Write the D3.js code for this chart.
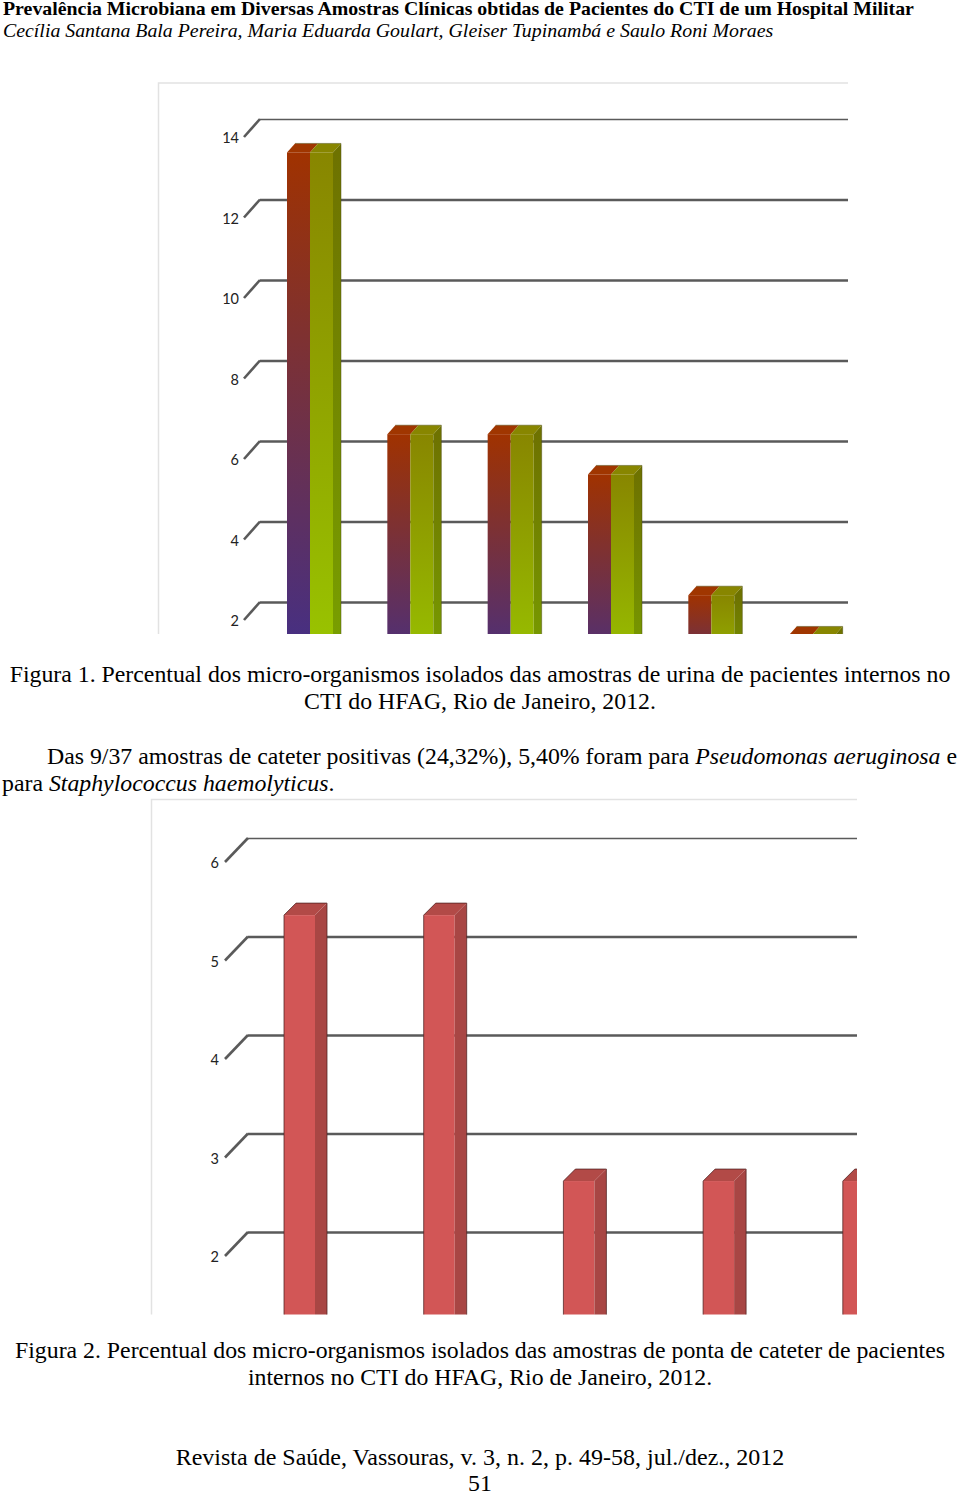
<!DOCTYPE html>
<html><head><meta charset="utf-8">
<script src="https://cdn.jsdelivr.net/npm/d3@7/dist/d3.min.js"></script>
<style>
html,body{margin:0;padding:0;background:#fff}
svg{display:block}
.t{font-family:"Liberation Serif",serif;fill:#000}
.tick text{font-family:Lato,sans-serif;font-size:14.5px;fill:#222}
</style></head><body>
<svg id="c" width="960" height="1493"></svg>
<script>
const chart1Categories = ["a","b","c","d","e","f"];
const chart1SeriesA = [13.5,6.5,6.5,5.5,2.5,1.5];
const chart1SeriesB = [13.5,6.5,6.5,5.5,2.5,1.5];
const chart1Ticks = [2,4,6,8,10,12,14];
const chart2Categories = ["a","b","c","d","e"];
const chart2Values = [5.4,5.4,2.7,2.7,2.7];
const chart2Ticks = [2,3,4,5,6];

const svg = d3.select("#c");
const defs = svg.append("defs");

function text(x,y,size,str,anchor,weight,style){
  const t = svg.append("text").attr("class","t").attr("x",x).attr("y",y)
    .attr("font-size",size).attr("text-anchor",anchor||"start");
  if(weight) t.attr("font-weight",weight);
  if(style) t.attr("font-style",style);
  t.text(str); return t;
}
function rich(x,y,size,parts,anchor){
  const t = svg.append("text").attr("class","t").attr("x",x).attr("y",y)
    .attr("font-size",size).attr("text-anchor",anchor||"start");
  parts.forEach(p=>{const s=t.append("tspan").text(p[0]); if(p[1]) s.attr("font-style","italic");});
}
text(3,15,19.85,"Prevalência Microbiana em Diversas Amostras Clínicas obtidas de Pacientes do CTI de um Hospital Militar","start","bold");
text(3,37,19.85,"Cecília Santana Bala Pereira, Maria Eduarda Goulart, Gleiser Tupinambá e Saulo Roni Moraes","start",null,"italic");
text(480,682,23.8,"Figura 1. Percentual dos micro-organismos isolados das amostras de urina de pacientes internos no","middle");
text(480,709,23.8,"CTI do HFAG, Rio de Janeiro, 2012.","middle");
rich(47,764,23.8,[["Das 9/37 amostras de cateter positivas (24,32%), 5,40% foram para "],["Pseudomonas aeruginosa",1],[" e"]]);
rich(2,791,23.8,[["para "],["Staphylococcus haemolyticus",1],["."]]);
text(480,1358,23.8,"Figura 2. Percentual dos micro-organismos isolados das amostras de ponta de cateter de pacientes","middle");
text(480,1385,23.8,"internos no CTI do HFAG, Rio de Janeiro, 2012.","middle");
text(480,1465,24,"Revista de Saúde, Vassouras, v. 3, n. 2, p. 49-58, jul./dez., 2012","middle");
text(480,1491,23.8,"51","middle");

function frame(cfg){
  const g = svg.append("g");
  g.append("path").attr("d",`M${cfg.frameX},${cfg.bottom}V${cfg.frameY}H${cfg.right}`)
    .attr("fill","none").attr("stroke","#e2e2e2").attr("stroke-width",1.5);
  const cid = "clip"+cfg.id;
  defs.append("clipPath").attr("id",cid).append("rect")
    .attr("x",cfg.frameX).attr("y",cfg.frameY).attr("width",cfg.right-cfg.frameX).attr("height",cfg.bottom-cfg.frameY);
  const grid = g.append("g").attr("transform",`translate(${cfg.backX},0)`)
    .call(d3.axisRight(cfg.y).tickValues(cfg.ticks).tickSize(cfg.right-cfg.backX).tickFormat(""));
  grid.select(".domain").remove();
  grid.selectAll("line").attr("stroke","#5a5a5a").attr("stroke-width",d=>d===cfg.ticks[cfg.ticks.length-1]?1.6:2.6);
  g.append("g").selectAll("line").data(cfg.ticks).join("line")
    .attr("x1",cfg.backX-cfg.dx).attr("y1",d=>cfg.y(d)+cfg.dy).attr("x2",cfg.backX).attr("y2",d=>cfg.y(d))
    .attr("stroke","#5a5a5a").attr("stroke-width",2.6);
  const lab = g.append("g").attr("transform",`translate(${cfg.labelX},${cfg.dy+1})`)
    .call(d3.axisLeft(cfg.y).tickValues(cfg.ticks).tickSize(0).tickPadding(0).tickFormat(d3.format("d")));
  lab.select(".domain").remove();
  return g.append("g").attr("clip-path",`url(#${cid})`);
}
function gradient(id,y1,y2,stops){
  const gr = defs.append("linearGradient").attr("id",id).attr("gradientUnits","userSpaceOnUse")
    .attr("x1",0).attr("x2",0).attr("y1",y1).attr("y2",y2);
  stops.forEach((c,i)=>gr.append("stop").attr("offset",i/(stops.length-1)).attr("stop-color",c));
  return `url(#${id})`;
}

// Chart 1
const y1 = d3.scaleLinear().domain([2,14]).range([602,119]);
const x1 = d3.scaleBand().domain(chart1Categories).range([287,889]).paddingInner(0).paddingOuter(0);
const c1 = {id:1,frameX:158.5,frameY:83,right:848,bottom:634,backX:260,dx:16,dy:18,labelX:239,y:y1,ticks:chart1Ticks};
const p1 = frame(c1);
const w1 = 23, dep1x = 8, dep1y = 9;
const base1 = y1(0)+18;
chart1Categories.forEach((c,i)=>{
  const xl = x1(c), top = y1(chart1SeriesA[i])+4.3+dep1y;
  const gA = gradient("a"+i,top,base1,["#a03200","#3c2f92"]);
  const gB = gradient("b"+i,top,base1,["#888600","#9bca00"]);
  const gS = gradient("s"+i,top,base1,["#6e7200","#7aa400"]);
  p1.append("path").attr("d",`M${xl},${top}l${dep1x},${-dep1y}h${w1}l${-dep1x},${dep1y}z`).attr("fill","#a03600");
  p1.append("path").attr("d",`M${xl+w1},${top}l${dep1x},${-dep1y}h${w1}l${-dep1x},${dep1y}z`).attr("fill","#888600");
  p1.append("rect").attr("x",xl).attr("y",top).attr("width",w1).attr("height",base1-top).attr("fill",gA);
  p1.append("rect").attr("x",xl+w1).attr("y",top).attr("width",w1).attr("height",base1-top).attr("fill",gB);
  p1.append("path").attr("d",`M${xl+2*w1},${top}l${dep1x},${-dep1y}V${base1}h${-dep1x}z`).attr("fill",gS);
  p1.append("path").attr("d",`M${xl+dep1x},${top-dep1y}h${2*w1}V${base1}`).attr("fill","none").attr("stroke","#4a4a10").attr("stroke-width",.8).attr("stroke-opacity",.6);
});

// Chart 2
const y2 = d3.scaleLinear().domain([2,6]).range([1232,838]);
const x2 = d3.scaleBand().domain(chart2Categories).range([284,982.5]).paddingInner(0).paddingOuter(0);
const c2 = {id:2,frameX:151.5,frameY:799.5,right:857,bottom:1314.5,backX:248,dx:23,dy:24,labelX:219,y:y2,ticks:chart2Ticks};
const p2 = frame(c2);
const w2 = 31, dep2x = 12, dep2y = 12;
const base2 = 1400;
chart2Categories.forEach((c,i)=>{
  const xl = x2(c), top = y2(chart2Values[i])+6+dep2y;
  p2.append("path").attr("d",`M${xl},${top}l${dep2x},${-dep2y}h${w2}l${-dep2x},${dep2y}z`).attr("fill","#b24a47");
  p2.append("rect").attr("x",xl).attr("y",top).attr("width",w2).attr("height",base2-top).attr("fill","#d25656");
  p2.append("path").attr("d",`M${xl+w2},${top}l${dep2x},${-dep2y}V${base2}h${-dep2x}z`).attr("fill","#a84644");
  p2.append("path").attr("d",`M${xl},${base2}V${top}l${dep2x},${-dep2y}h${w2}V${base2}`).attr("fill","none").attr("stroke","#4d2222").attr("stroke-width",1).attr("stroke-opacity",.75);
});
</script>
</body></html>
